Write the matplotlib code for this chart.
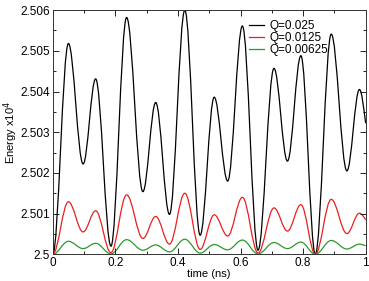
import matplotlib.pyplot as plt
from matplotlib.path import Path
from matplotlib.patches import PathPatch
from matplotlib.lines import Line2D
from matplotlib.ticker import MultipleLocator, FuncFormatter

plt.rcParams['font.family'] = ['Liberation Sans', 'DejaVu Sans']

# Turning points of the curves (time in ns, energy x10^4)
t_turn = [0.0, 0.050, 0.097, 0.137, 0.186, 0.236, 0.288, 0.329, 0.373, 0.422,
          0.471, 0.516, 0.559, 0.606, 0.656, 0.707, 0.750, 0.793, 0.839, 0.890,
          0.940, 0.980, 1.0]

e_q025 = [2.5, 2.50518, 2.50222, 2.50431, 2.50020, 2.50582, 2.50154, 2.50373,
          2.50098, 2.50600, 2.50047, 2.50386, 2.50180, 2.50561, 2.50010, 2.50457,
          2.50229, 2.50488, 2.50000, 2.50541, 2.50205, 2.50405, 2.50322]
e_q0125 = [2.5, 2.50129, 2.50055, 2.50107, 2.50004, 2.50146, 2.50039, 2.50093,
           2.50025, 2.50150, 2.50012, 2.50097, 2.50045, 2.50140, 2.50003, 2.50114,
           2.50057, 2.50122, 2.50000, 2.50135, 2.50051, 2.50101, 2.50085]
e_q00625 = [2.5, 2.50032, 2.50014, 2.50027, 2.50001, 2.50036, 2.50010, 2.50023,
            2.50006, 2.50037, 2.50003, 2.50024, 2.50011, 2.50035, 2.50001, 2.50029,
            2.50014, 2.50030, 2.50000, 2.50034, 2.50013, 2.50025, 2.50021]

labels = ["Q=0.025", "Q=0.0125", "Q=0.00625"]
colors = ["black", "#e8201e", "#2a9a2a"]


def wave_path(ts, es):
    # smooth curve through the turning points: flat tangent at each extremum
    k = 0.3642
    verts = [(ts[0], es[0])]
    codes = [Path.MOVETO]
    for i in range(len(ts) - 1):
        x0, y0, x1, y1 = ts[i], es[i], ts[i + 1], es[i + 1]
        dx = x1 - x0
        c2y = y1 if i + 1 < len(ts) - 1 else y1 + 0.5 * (y0 - y1)
        verts += [(x0 + k * dx, y0), (x1 - k * dx, c2y), (x1, y1)]
        codes += [Path.CURVE4] * 3
    return Path(verts, codes)


fig = plt.figure(figsize=(3.69, 2.81), dpi=100)
ax = fig.add_axes([0.143, 0.095, 0.848, 0.869])

handles = []
for es, lab, col in zip([e_q025, e_q0125, e_q00625], labels, colors):
    ax.add_patch(PathPatch(wave_path(t_turn, es), facecolor='none',
                           edgecolor=col, lw=0.9))
    handles.append(Line2D([], [], color=col, lw=0.9, label=lab))

ax.set_xlim(0, 1)
ax.set_ylim(2.5, 2.506)
ax.xaxis.set_major_locator(MultipleLocator(0.2))
ax.xaxis.set_minor_locator(MultipleLocator(0.1))
ax.yaxis.set_major_locator(MultipleLocator(0.001))
ax.yaxis.set_minor_locator(MultipleLocator(0.0005))
fmt = FuncFormatter(lambda v, p: "%g" % round(v, 4))
ax.xaxis.set_major_formatter(fmt)
ax.yaxis.set_major_formatter(fmt)
ax.tick_params(which='both', direction='in', top=True, right=True,
               labelsize=8.5, width=0.6, pad=2)
ax.tick_params(which='major', length=4)
ax.tick_params(which='minor', length=2)
for s in ax.spines.values():
    s.set_linewidth(0.7)
    s.set_color('#333333')

ax.set_xlabel("time (ns)", fontsize=8, labelpad=0)
ax.set_ylabel("Energy x10$^4$", fontsize=8, labelpad=0)

ax.legend(handles=handles, loc='upper left', bbox_to_anchor=(0.627, 0.96),
          frameon=False, fontsize=8.5, handlelength=1.3, handletextpad=0.45,
          labelspacing=0.0, borderpad=0, borderaxespad=0)

fig.savefig("out.png", dpi=100)
